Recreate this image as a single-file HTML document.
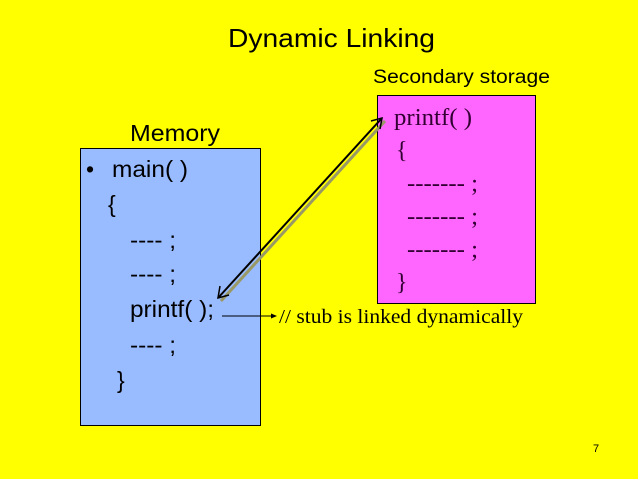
<!DOCTYPE html>
<html><head><meta charset="utf-8"><style>
html,body{margin:0;padding:0;background:#ffff00;}
svg{display:block}
.s{font-family:"Liberation Sans",sans-serif;fill:#000}
.r{font-family:"Liberation Serif",serif;fill:#330033}
</style></head><body>
<svg width="638" height="479" viewBox="0 0 638 479">
<rect width="638" height="479" fill="#ffff00"/>
<text x="228" y="47" class="s" font-size="26" textLength="207" lengthAdjust="spacingAndGlyphs">Dynamic Linking</text>
<text x="373" y="83" class="s" font-size="19" textLength="177" lengthAdjust="spacingAndGlyphs">Secondary storage</text>
<text x="130" y="141" class="s" font-size="23" textLength="90" lengthAdjust="spacingAndGlyphs">Memory</text>
<rect x="80.5" y="148.5" width="180" height="277" fill="#99bbff" stroke="#000" stroke-width="1"/>
<rect x="377.5" y="95.5" width="158" height="208" fill="#ff66ff" stroke="#000" stroke-width="1"/>
<g class="s" font-size="23">
<text x="86" y="177">•</text>
<text x="112" y="177" textLength="76" lengthAdjust="spacingAndGlyphs">main( )</text>
<text x="108" y="212">{</text>
<text x="130" y="248" textLength="46" lengthAdjust="spacingAndGlyphs">---- ;</text>
<text x="130" y="282" textLength="46" lengthAdjust="spacingAndGlyphs">---- ;</text>
<text x="130" y="317" textLength="84" lengthAdjust="spacingAndGlyphs">printf( );</text>
<text x="130" y="353" textLength="46" lengthAdjust="spacingAndGlyphs">---- ;</text>
<text x="117" y="388">}</text>
</g>
<g class="r" font-size="24">
<text x="394" y="125" textLength="78" lengthAdjust="spacingAndGlyphs">printf( )</text>
<text x="396" y="158">{</text>
<text x="407" y="191" textLength="71" lengthAdjust="spacingAndGlyphs">------- ;</text>
<text x="407" y="224" textLength="71" lengthAdjust="spacingAndGlyphs">------- ;</text>
<text x="407" y="257" textLength="71" lengthAdjust="spacingAndGlyphs">------- ;</text>
<text x="396" y="290">}</text>
</g>
<text x="279" y="323" font-family="Liberation Serif,serif" font-size="20" fill="#000" textLength="244" lengthAdjust="spacingAndGlyphs">// stub is linked dynamically</text>
<line x1="221" y1="301" x2="385" y2="121" stroke="#999966" stroke-width="3"/>
<line x1="218" y1="298" x2="382" y2="118" stroke="#000" stroke-width="2"/>
<polyline points="371,121 382,118 380,129" fill="none" stroke="#000" stroke-width="1.5"/>
<polyline points="220,286 218,298 229,295" fill="none" stroke="#000" stroke-width="1.5"/>
<line x1="222" y1="316" x2="272" y2="316" stroke="#000" stroke-width="1"/>
<polygon points="277,316 271,313.5 271,318.5" fill="#000"/>
<text x="593" y="452" class="s" font-size="11">7</text>
</svg>
</body></html>
